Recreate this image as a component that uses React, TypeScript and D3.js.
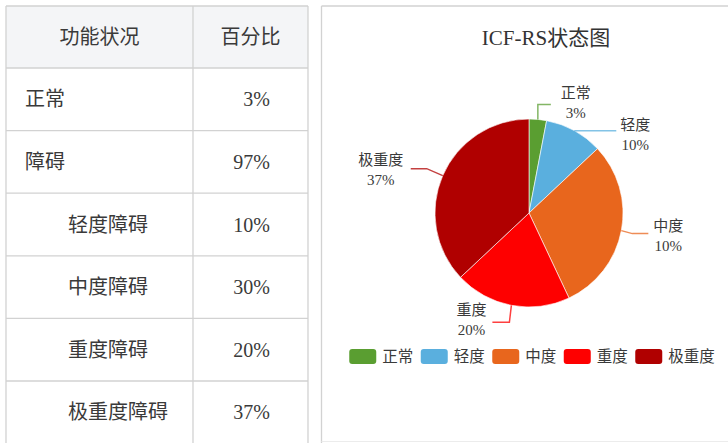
import React from "react";
import * as d3 from "d3";

// ---- data ----
const tableHeader = ["功能状况", "百分比"];
const tableRows = ["正常", "障碍", "轻度障碍", "中度障碍", "重度障碍", "极重度障碍"];
const tableValues = ["3%", "97%", "10%", "30%", "20%", "37%"];
const tableIndent = [false, false, true, true, true, true];

const chartTitle = "ICF-RS状态图";
const categories = ["正常", "轻度", "中度", "重度", "极重度"];
const values = [3, 10, 30, 20, 37];
const labelPercents = ["3%", "10%", "10%", "20%", "37%"];
const colors = ["#5a9e31", "#5aafde", "#e8661d", "#fe0000", "#b00000"];

// leader-line elbows (relative to the slice's outer mid point) and label anchors
const leaderElbow = [
  [[0, -15], [13, -15]],
  [[16, 0], [42, 0]],
  [[11, 3], [27, 3]],
  [[-2, 17], [-19, 17]],
  [[-16, -7], [-32, -7]],
];
const labelOffset = [
  [38, -16],
  [61, 4],
  [47, 5],
  [-40, 15],
  [-62, -6],
];

const W = 728;
const H = 443;

export default function App() {
  // table geometry
  const tX0 = 6, tX1 = 193, tX2 = 308;
  const tY0 = 6, headerH = 62, rowH = 62.6;
  const rowYs = d3.range(tableRows.length + 2).map((i) => (i === 0 ? tY0 : tY0 + headerH + (i - 1) * rowH));

  // chart panel
  const px0 = 321.5;
  const cx = 529, cy = 213, r = 94;
  const pie = d3.pie<number>().sort(null).startAngle(0).endAngle(2 * Math.PI)(values);
  const arc = d3.arc<d3.PieArcDatum<number>>().innerRadius(0).outerRadius(r);

  const serif = "'Liberation Serif', 'DejaVu Serif', 'Noto Sans CJK SC', serif";
  const textColor = "#3a3a3a";

  // legend
  const legendFont = 15.5;
  const sw = 27, sh = 15, gap1 = 6, gap2 = 7.5;
  const itemW = categories.map((c) => sw + gap1 + c.length * legendFont);
  const totalW = d3.sum(itemW) + gap2 * (categories.length - 1);
  let lx = 532 - totalW / 2;
  const legendX = itemW.map((w) => {
    const x = lx;
    lx += w + gap2;
    return x;
  });
  const legendY = 349;

  return (
    <svg width={W} height={H} style={{ position: "absolute", left: 0, top: 0 }}>
      <rect x={0} y={0} width={W} height={H} fill="#fff" />
      {/* table */}
      <rect x={tX0} y={tY0} width={tX2 - tX0} height={headerH} fill="#f4f5f7" />
      {rowYs.map((y, i) => (
        <line key={"h" + i} x1={tX0} x2={tX2} y1={y} y2={y} stroke="#d2d2d2" strokeWidth={1.3} />
      ))}
      {[tX0, tX1, tX2].map((x, i) => (
        <line key={"v" + i} x1={x} x2={x} y1={tY0} y2={H} stroke="#d2d2d2" strokeWidth={1.3} />
      ))}
      <text x={(tX0 + tX1) / 2} y={tY0 + headerH / 2} textAnchor="middle" dominantBaseline="central"
        fontFamily={serif} fontSize={20} fill={textColor}>{tableHeader[0]}</text>
      <text x={(tX1 + tX2) / 2} y={tY0 + headerH / 2} textAnchor="middle" dominantBaseline="central"
        fontFamily={serif} fontSize={20} fill={textColor}>{tableHeader[1]}</text>
      {tableRows.map((name, i) => {
        const yc = tY0 + headerH + i * rowH + rowH / 2;
        return (
          <g key={"r" + i}>
            <text x={tableIndent[i] ? 68 : 25} y={yc} dominantBaseline="central"
              fontFamily={serif} fontSize={20} fill={textColor}>{name}</text>
            <text x={270} y={yc} textAnchor="end" dominantBaseline="central"
              fontFamily={serif} fontSize={20} fill={textColor}>{tableValues[i]}</text>
          </g>
        );
      })}

      {/* chart panel */}
      <line x1={px0} x2={W} y1={6} y2={6} stroke="#d2d2d2" strokeWidth={1.3} />
      <line x1={px0} x2={px0} y1={6} y2={H} stroke="#d2d2d2" strokeWidth={1.3} />
      <line x1={px0} x2={W} y1={441.5} y2={441.5} stroke="#ececec" strokeWidth={1} />
      <text x={546} y={38} textAnchor="middle" dominantBaseline="central" fontFamily={serif}
        fontSize={21} fill="#333">{chartTitle}</text>

      <g transform={`translate(${cx},${cy})`}>
        {pie.map((d, i) => (
          <path key={"s" + i} d={arc(d) || ""} fill={colors[i]} stroke="#fff" strokeWidth={0.6} />
        ))}
      </g>

      {pie.map((d, i) => {
        const a = (d.startAngle + d.endAngle) / 2;
        const sx = cx + r * Math.sin(a);
        const sy = cy - r * Math.cos(a);
        const pts: [number, number][] = [[sx, sy], ...leaderElbow[i].map(([dx, dy]) => [sx + dx, sy + dy] as [number, number])];
        const line = d3.line()(pts) || "";
        const tx = sx + labelOffset[i][0];
        const ty = sy + labelOffset[i][1];
        return (
          <g key={"l" + i}>
            <path d={line} fill="none" stroke={colors[i]} strokeOpacity={0.75} strokeWidth={1.5} />
            <text x={tx} y={ty - 10} textAnchor="middle" dominantBaseline="central" fontFamily={serif}
              fontSize={15} fill={textColor}>{categories[i]}</text>
            <text x={tx} y={ty + 10} textAnchor="middle" dominantBaseline="central" fontFamily={serif}
              fontSize={15} fill={textColor}>{labelPercents[i]}</text>
          </g>
        );
      })}

      {/* legend */}
      {categories.map((c, i) => (
        <g key={"lg" + i}>
          <rect x={legendX[i]} y={legendY} width={sw} height={sh} rx={3} fill={colors[i]} />
          <text x={legendX[i] + sw + gap1} y={legendY + sh / 2} dominantBaseline="central"
            fontFamily={serif} fontSize={legendFont} fill={textColor}>{c}</text>
        </g>
      ))}
    </svg>
  );
}
